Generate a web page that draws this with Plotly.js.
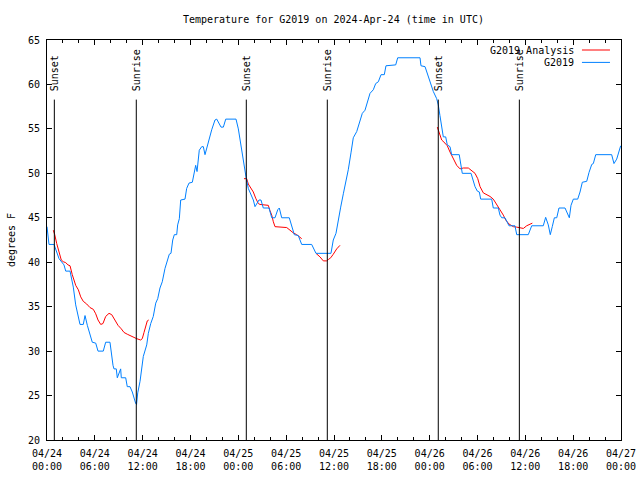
<!DOCTYPE html>
<html>
<head>
<meta charset="utf-8">
<script src="https://cdn.plot.ly/plotly-3.0.1.min.js"></script>
<style>html,body{margin:0;padding:0;background:#fff;}#chart{width:640px;height:480px;}</style>
</head>
<body>
<div id="chart"></div>
<script>
// Hours since 2024-04-24 00:00 UTC
const blueHours = [0,0.25,0.88,1.09,1.51,2.13,2.35,2.89,2.97,3.30,3.60,3.80,4.14,4.55,4.77,5.06,5.36,5.68,6.11,6.40,7.06,7.36,7.90,8.07,8.28,8.40,8.69,8.82,9.03,9.24,9.32,9.87,10.07,10.41,10.70,10.91,11.13,11.23,11.38,11.67,12.08,12.51,12.71,13.01,13.33,13.64,13.89,14.17,14.46,14.80,15.09,15.34,15.55,15.77,15.97,16.27,16.39,16.60,16.77,17.31,17.52,17.81,18.23,18.44,18.65,18.82,18.90,19.10,19.41,19.61,19.82,20.23,20.66,21.07,21.29,21.83,22.12,22.42,23.71,24.00,24.34,24.62,24.96,25.25,25.68,25.88,26.09,26.31,26.59,26.84,27.13,27.85,28.19,28.60,28.94,29.14,29.44,30.39,30.69,31.02,31.52,31.95,33.20,33.74,35.62,35.91,36.25,36.54,36.84,37.17,37.47,37.79,38.13,38.42,38.85,39.26,39.55,39.89,40.23,40.52,40.93,41.23,41.56,41.90,42.31,42.52,43.74,43.99,46.79,46.91,47.42,47.75,48.17,48.46,48.88,49.08,49.29,49.51,49.71,50.01,50.21,50.55,50.76,51.71,51.93,52.09,53.19,53.40,53.69,53.98,54.23,54.40,55.78,55.98,56.61,56.82,57.04,57.45,57.66,57.95,58.70,58.92,60.37,60.80,62.25,62.55,62.88,63.13,63.38,63.64,63.94,64.22,64.98,65.27,65.52,65.73,66.02,66.57,66.86,67.15,67.70,67.99,68.33,68.53,68.83,70.83,71.12,71.46,71.75,71.96];
const blueTemps = [44,42,42,41.4,40.4,39.7,39,39,38.6,37.2,35.2,34.3,33,33,34,32.9,32,31,30.9,30,30,31,31,29.5,28.4,28,28,27,27.5,28,27,27,26,26,25.4,24.7,24.1,24,25.3,26.6,29.4,30.7,32,33.1,33.9,35.4,35.9,37.1,37.8,39.3,40.3,40.9,41,42.5,43.1,43.1,44.2,44.9,47,47.1,48.3,48.9,49,50.2,50.9,50.2,51.1,52.6,53,53,52.1,53.6,54.9,56,56.1,55.2,55.2,56.1,56.1,55,53,51.7,49.6,48.3,47.4,47,46.25,46.6,47,47,46.1,46.1,45,45,45.9,46.1,45,45,44.1,43.1,43,42,42,41,41,42.5,43.25,44.5,46.2,47.7,48.9,50.4,52.3,54,54.7,55.8,56.75,57.1,58.1,59,59.4,60.1,60.3,61.1,61.1,62.1,62.2,63,63,62.1,62,61.1,60.1,59.2,58.4,57.7,56.5,55,54.1,54.1,53.2,53,52.1,52.1,50.6,50,50,49.25,48.5,48,47.9,47.1,47.1,46.1,46.1,45.3,45,45,44.55,44.1,44.1,43.1,43.1,44.1,44.1,45.05,44.2,43.1,44,45,45,46.1,46.1,45.5,45,46.4,47.1,47.1,47.9,49,49.1,50.1,51,51.1,52.1,52.1,51.1,51.6,52.6,53.1];

const redHours = [0.79,0.97,1.22,1.51,1.79,2.04,2.35,2.63,2.89,3.17,3.60,3.93,4.23,4.55,4.98,5.39,5.81,6.11,6.40,6.74,7.02,7.36,7.78,8.12,8.49,8.91,9.32,9.66,10.07,10.50,10.83,11.25,11.75,11.95,12.17,12.38,12.58,12.76,
  null,
  24.71,25.05,25.25,25.55,25.88,26.18,26.51,26.72,27.76,27.97,28.19,28.39,28.60,30.07,30.48,30.90,31.32,31.65,31.95,
  null,
  33.74,34.24,34.66,35.06,35.29,35.59,35.91,36.34,36.75,
  null,
  48.96,49.21,49.51,49.92,50.21,50.55,50.97,51.39,51.81,52.22,52.85,53.27,53.69,54.03,54.32,54.73,55.16,55.57,55.98,56.41,56.82,57.24,57.54,57.95,58.49,58.92,59.46,59.75,60.17,60.59,60.88];
const redTemps = [43.6,43.1,42.1,41,40.25,40.06,39.95,39.7,39.6,38.6,37.4,36.9,36.1,35.6,35.3,34.9,34.7,34.2,33.5,33,33.1,33.9,34.25,34.1,33.5,32.9,32.5,32.1,31.9,31.7,31.6,31.4,31.25,31.4,32.1,32.9,33.4,33.5,
  null,
  49.4,49.4,48.8,48.3,47.9,47.2,46.6,46.5,46.4,45.8,45.3,44.55,44,43.9,43.6,43.3,43.1,42.9,42.65,
  null,
  41,40.6,40.15,40.15,40.3,40.5,40.9,41.5,41.9,
  null,
  55.2,54.5,53.75,53.4,53.1,52.4,51.7,50.9,50.5,50.6,50.6,50.3,50,49.4,48.5,47.8,47.6,47.4,47.1,46.4,45.9,45.3,44.75,44.3,44,43.95,43.8,43.8,44.1,44.3,44.4];

const eventHours = [0.92, 11.2, 25.0, 35.16, 49.08, 59.25];
const eventLabels = ["Sunset","Sunrise","Sunset","Sunrise","Sunset","Sunrise"];

const seriesNames = ["G2019 Analysis", "G2019"];
const seriesColors = ["#ff0000", "#0080ff"];

const baseMs = Date.UTC(2024, 3, 24);
function hToDate(h) {
  if (h === null) return null;
  const d = new Date(baseMs + h * 3600000);
  return d.toISOString().slice(0, 19).replace('T', ' ');
}

const FONT = "DejaVu Sans Mono, Liberation Mono, monospace";

const traces = [
  {x: redHours.map(hToDate), y: redTemps, type: 'scatter', mode: 'lines', name: seriesNames[0],
   line: {color: seriesColors[0], width: 1}, connectgaps: false, showlegend: false},
  {x: blueHours.map(hToDate), y: blueTemps, type: 'scatter', mode: 'lines', name: seriesNames[1],
   line: {color: seriesColors[1], width: 1}, showlegend: false}
];

const shapes = eventHours.map(h => ({
  type: 'line', xref: 'x', yref: 'paper', x0: hToDate(h), x1: hToDate(h), y0: 0, y1: 0.851,
  line: {color: '#000', width: 1}
}));

const annotations = eventHours.map((h, i) => ({
  x: hToDate(h), xref: 'x', y: 0.8675, yref: 'paper', text: eventLabels[i], textangle: -90,
  xanchor: 'center', yanchor: 'bottom', showarrow: false, xshift: 1,
  font: {family: FONT, size: 10, color: '#000'}
}));

// manual legend (gnuplot style: text then sample line)
const legendY = [0.975, 0.944];
seriesNames.forEach((n, i) => {
  annotations.push({x: 0.9216, xref: 'paper', y: legendY[i], yref: 'paper', text: n,
    xanchor: 'right', yanchor: 'middle', showarrow: false,
    font: {family: FONT, size: 10, color: '#000'}});
  shapes.push({type: 'line', xref: 'paper', yref: 'paper', x0: 0.932, x1: 0.9808,
    y0: legendY[i], y1: legendY[i], line: {color: seriesColors[i], width: 1}});
});

const layout = {
  width: 640, height: 480,
  margin: {l: 47, r: 19, t: 40, b: 40},
  paper_bgcolor: '#fff', plot_bgcolor: '#fff',
  font: {family: FONT, size: 10, color: '#000'},
  title: {text: 'Temperature for G2019 on 2024-Apr-24 (time in UTC)', x: 0.521, xanchor: 'center', y: 0.96, yanchor: 'middle',
    font: {family: FONT, size: 10, color: '#000'}},
  showlegend: false,
  xaxis: {
    type: 'date', range: [hToDate(0), hToDate(72)],
    tick0: hToDate(0), dtick: 6 * 3600000, tickformat: '%m/%d<br>%H:%M',
    ticks: 'inside', ticklen: 5, tickcolor: '#000', tickwidth: 1, ticklabelstandoff: 4,
    minor: {dtick: 2 * 3600000, ticks: 'inside', ticklen: 3, tickcolor: '#000', showgrid: false},
    showgrid: false, zeroline: false, showline: true, linecolor: '#000', linewidth: 1, mirror: 'allticks',
    tickfont: {family: FONT, size: 10, color: '#000'}
  },
  yaxis: {
    range: [20, 65], dtick: 5, tick0: 20,
    ticks: 'inside', ticklen: 5, tickcolor: '#000', tickwidth: 1, ticklabelstandoff: 4,
    showgrid: false, zeroline: false, showline: true, linecolor: '#000', linewidth: 1, mirror: 'allticks',
    tickfont: {family: FONT, size: 10, color: '#000'},
    title: {text: 'degrees F', standoff: 10, font: {family: FONT, size: 10, color: '#000'}}
  },
  shapes: shapes,
  annotations: annotations
};

Plotly.newPlot('chart', traces, layout, {staticPlot: true, displayModeBar: false});
</script>
</body>
</html>
